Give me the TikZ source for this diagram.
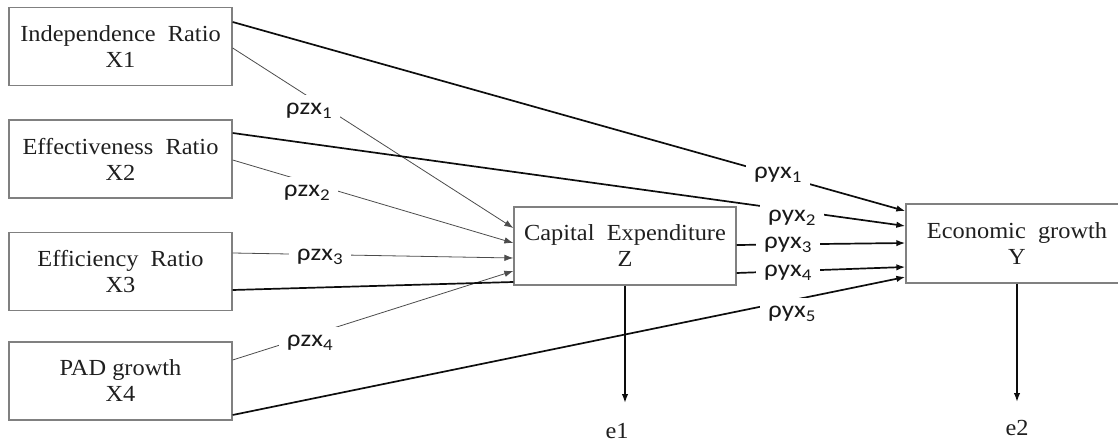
\documentclass[tikz,border=0pt]{standalone}
\usepackage{fontspec}
\setmainfont{Liberation Serif}[FakeStretch=1.06]
\newfontfamily\labfont{Carlito}[FakeStretch=1.15]
\usetikzlibrary{arrows.meta}
\begin{document}
\begin{tikzpicture}[x=1pt,y=-1pt,
  box/.style={draw=black!50,line width=1.3pt,minimum width=223pt,minimum height=78pt,
    inner sep=0pt,align=center,font=\fontsize{23}{26}\selectfont,text=black!88},
  lab/.style={fill=white,inner xsep=8pt,inner ysep=8pt,text=black!90,
    font=\labfont\fontsize{23.5}{25}\selectfont},
  tip/.style={-{Latex[length=9pt,width=6.5pt]}},
  thinln/.style={draw=black!70,line width=0.8pt},
  thickln/.style={draw=black!95,line width=1.7pt},
  errtxt/.style={font=\fontsize{23}{26}\selectfont,text=black!88,anchor=base,inner sep=0pt}
]
\useasboundingbox (0,0) rectangle (1118,443);

% boxes
\node[box] (X1) at (120.5,46.5) {Independence\ \ Ratio\\X1};
\node[box] (X2) at (120.5,159) {Effectiveness\ \ Ratio\\X2};
\node[box] (X3) at (120.5,271.5) {Efficiency\ \ Ratio\\X3};
\node[box] (X4) at (120.5,381) {PAD growth\\X4};
\node[box,minimum width=222pt] (Z) at (625,246) {Capital\ \ Expenditure\\Z};
\node[box,minimum width=222pt,minimum height=79pt] (Y) at (1017,243.5) {Economic\ \ growth\\Y};

% error terms
\coordinate (e1tip) at (625,403);
\coordinate (e2tip) at (1017,402);
\node[errtxt] (e1) at (617,438.5) {e1};
\node[errtxt] (e2) at (1017,435) {e2};

% X -> Z (thin)
\draw[thinln,tip] ([yshift=-1.5pt]X1.east) -- ([yshift=18pt]Z.west);
\draw[thinln,tip] ([yshift=-1pt]X2.east) -- ([yshift=3pt]Z.west);
\draw[thinln,tip] ([yshift=18.5pt]X3.east) -- ([yshift=-12pt]Z.west);
\draw[thinln,tip] ([yshift=21pt]X4.east) -- ([yshift=-25pt]Z.west);

% X -> Y (thick)
\draw[thickln,tip] ([yshift=24.5pt]X1.east) -- ([yshift=32.5pt]Y.west);
\draw[thickln,tip] ([yshift=26pt]X2.east) -- ([yshift=17.5pt]Y.west);
\draw[thickln] ([yshift=-18.5pt]X3.east) -- ([yshift=-36pt]Z.west);
\draw[thickln,tip] ([yshift=-34pt]X4.east) -- ([yshift=-33.5pt]Y.west);

% Z -> Y
\draw[thickln,tip] ([yshift=1pt]Z.east) -- ([yshift=0.5pt]Y.west);
\draw[thickln,tip] ([yshift=-27pt]Z.east) -- ([yshift=-23.5pt]Y.west);

% error arrows
\draw[thickln,tip] (Z.south) -- (e1tip);
\draw[thickln,tip] (Y.south) -- (e2tip);

% labels
\node[lab] (l1) at (309,111) {ρzx\textsubscript{1}};
\node[lab] (l2) at (307,193) {ρzx\textsubscript{2}};
\node[lab] (l3) at (320,257) {ρzx\textsubscript{3}};
\node[lab] (l4) at (310,343) {ρzx\textsubscript{4}};
\node[lab] (m1) at (778,175) {ρyx\textsubscript{1}};
\node[lab] (m2) at (792,218) {ρyx\textsubscript{2}};
\node[lab] (m3) at (788,245) {ρyx\textsubscript{3}};
\node[lab] (m4) at (788,273) {ρyx\textsubscript{4}};
\node[lab] (m5) at (792,314) {ρyx\textsubscript{5}};
\end{tikzpicture}
\end{document}
